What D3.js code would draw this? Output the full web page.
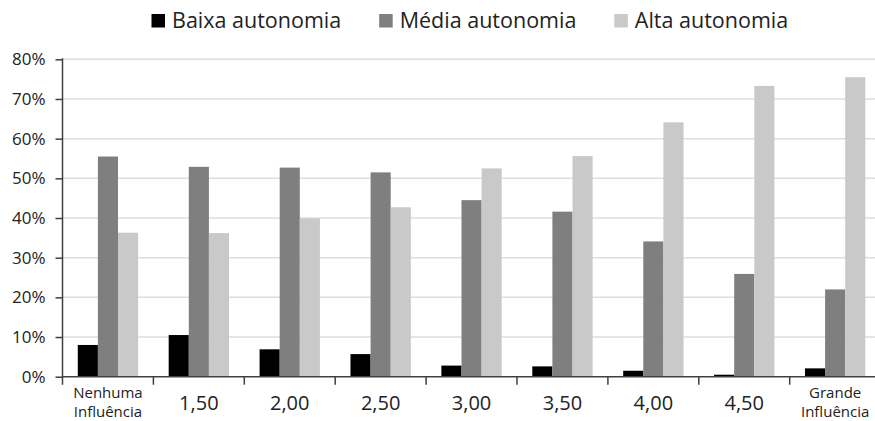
<!DOCTYPE html>
<html>
<head>
<meta charset="utf-8">
<script src="https://cdn.jsdelivr.net/npm/d3@7"></script>
<style>
  html, body { margin: 0; padding: 0; background: #ffffff; }
  svg { display: block; font-family: "Open Sans", "Noto Sans", sans-serif; }
</style>
</head>
<body>
<svg id="chart" width="875" height="421"></svg>
<script>
// Categories (influence level) and the share of each autonomy level, in percent
const categories = ["Nenhuma Influência", "1,50", "2,00", "2,50", "3,00", "3,50", "4,00", "4,50", "Grande Influência"];
const seriesNames = ["Baixa autonomia", "Média autonomia", "Alta autonomia"];
const baixa = [8.0, 10.5, 6.9, 5.7, 2.8, 2.6, 1.5, 0.5, 2.1];
const media = [55.5, 52.9, 52.7, 51.5, 44.5, 41.6, 34.1, 25.9, 22.0];
const alta  = [36.3, 36.2, 39.9, 42.7, 52.5, 55.6, 64.1, 73.3, 75.5];
const seriesColors = ["#000000", "#7f7f7f", "#c9c9c9"];
const yTicks = [0, 10, 20, 30, 40, 50, 60, 70, 80];

const seriesValues = [baixa, media, alta];
const svg = d3.select("#chart");

// Plot frame
const plotLeft = 62.5, step = 90.9;
const plotTop = 59.3, plotBottom = 376.7;

const x = d3.scaleBand()
  .domain(categories)
  .range([plotLeft, plotLeft + step * categories.length])
  .paddingInner(0).paddingOuter(0);

const xs = d3.scaleBand()
  .domain(seriesNames)
  .range([0, x.bandwidth()])
  .paddingInner(0).paddingOuter(0.76);

const y = d3.scaleLinear().domain([0, 80]).range([plotBottom, plotTop]);

// Horizontal gridlines
svg.append("g")
  .selectAll("line")
  .data(yTicks.filter(d => d > 0))
  .join("line")
  .attr("x1", plotLeft).attr("x2", x.range()[1])
  .attr("y1", d => y(d)).attr("y2", d => y(d))
  .attr("stroke", "#dedede").attr("stroke-width", 1.5);

// Bars
const groups = svg.append("g")
  .selectAll("g")
  .data(categories)
  .join("g")
  .attr("transform", d => `translate(${x(d)},0)`);

groups.selectAll("rect")
  .data((c, i) => seriesNames.map((s, k) => ({ s, k, v: seriesValues[k][i] })))
  .join("rect")
  .attr("x", d => xs(d.s))
  .attr("width", xs.bandwidth())
  .attr("y", d => y(d.v))
  .attr("height", d => y(0) - y(d.v))
  .attr("fill", d => seriesColors[d.k]);

// Y axis
const yAxis = svg.append("g")
  .attr("transform", `translate(${plotLeft},0)`)
  .call(d3.axisLeft(y).tickValues(yTicks).tickFormat(d => d + "%").tickSize(7).tickSizeOuter(0).tickPadding(10));
yAxis.select(".domain").remove();
yAxis.append("line")
  .attr("x1", 0).attr("x2", 0)
  .attr("y1", plotTop - 1).attr("y2", plotBottom + 8)
  .attr("stroke", "#404040").attr("stroke-width", 1.5);
yAxis.selectAll(".tick line").attr("stroke", "#404040").attr("stroke-width", 1.5);
yAxis.selectAll(".tick text")
  .attr("fill", "#222222")
  .style("font-size", "17px")
  .style("font-family", "'Open Sans', sans-serif");

// X axis: baseline with ticks at category boundaries
const xAxis = svg.append("g").attr("transform", `translate(0,${plotBottom})`);
xAxis.append("line")
  .attr("x1", plotLeft).attr("x2", x.range()[1])
  .attr("y1", 0).attr("y2", 0)
  .attr("stroke", "#404040").attr("stroke-width", 1.5);
xAxis.selectAll("line.bound")
  .data(categories.slice(1))
  .join("line")
  .attr("class", "bound")
  .attr("x1", d => x(d)).attr("x2", d => x(d))
  .attr("y1", 0).attr("y2", 8)
  .attr("stroke", "#404040").attr("stroke-width", 1.5);

const labels = xAxis.selectAll("text.cat")
  .data(categories)
  .join("text")
  .attr("class", "cat")
  .attr("text-anchor", "middle")
  .attr("fill", "#222222")
  .attr("x", d => x(d) + x.bandwidth() / 2);

labels.each(function (d) {
  const t = d3.select(this);
  const words = d.split(" ");
  if (words.length > 1) {
    t.style("font-size", "15px");
    words.forEach((w, i) => {
      t.append("tspan")
        .attr("x", x(d) + x.bandwidth() / 2)
        .attr("y", 21.5 + i * 18.5)
        .text(w);
    });
  } else {
    t.style("font-size", "20px").attr("y", 33).text(d);
  }
});

// Legend
const legend = svg.append("g").attr("transform", "translate(151.5,0)");
let cursor = 0;
seriesNames.forEach((name, k) => {
  const item = legend.append("g").attr("transform", `translate(${cursor},0)`);
  item.append("rect")
    .attr("x", 0).attr("y", 14)
    .attr("width", 13.5).attr("height", 13.5)
    .attr("fill", seriesColors[k]);
  const txt = item.append("text")
    .attr("x", 20.5).attr("y", 27.5)
    .attr("fill", "#222222")
    .style("font-size", "21.5px")
    .text(name);
  cursor += 20.5 + txt.node().getComputedTextLength() + 38;
});
</script>
</body>
</html>
